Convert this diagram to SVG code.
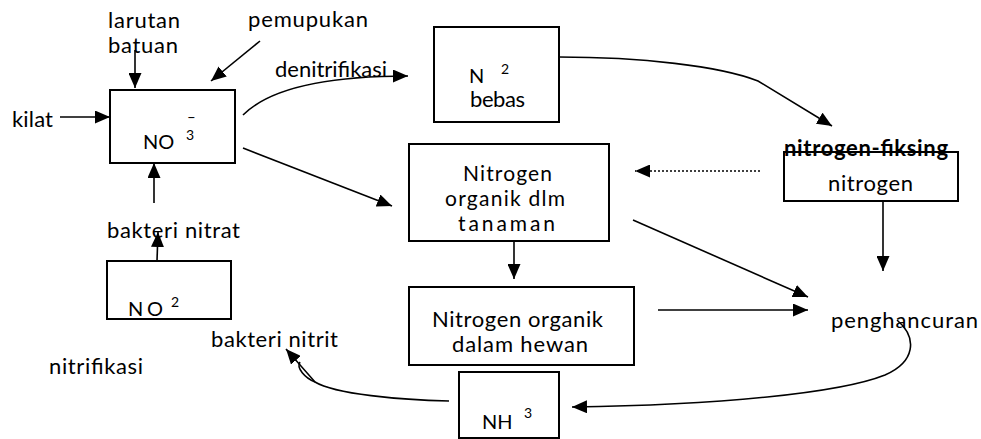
<svg xmlns="http://www.w3.org/2000/svg" width="981" height="439" viewBox="0 0 981 439">
<style>
text{font-family:Lato,"Liberation Sans",sans-serif;font-size:22px;fill:#000}
.sm{font-size:20px}
.t{font-size:21px}
.sup{font-size:14px}
.b{font-weight:bold}
.box{fill:#fff;stroke:#000;stroke-width:2}
.ln{fill:none;stroke:#000;stroke-width:1.6}
.ar{marker-end:url(#ah)}
.dot{stroke-dasharray:2 2}
</style>
<defs>
<marker id="ah" markerUnits="userSpaceOnUse" markerWidth="16" markerHeight="13" refX="15" refY="6.5" orient="auto">
<path d="M0,0 L15,6.5 L0,13 z" fill="#000"/>
</marker>
</defs>
<g id="connectors">
<path class="ln ar" d="M135,50 L135,88"/>
<path class="ln ar" d="M260,41 L211,81"/>
<path class="ln ar" d="M60,117 L110,117"/>
<path class="ln ar" d="M243,115 C270,88 330,76 408,76"/>
<path class="ln ar" d="M243,148 L392,206"/>
<path class="ln ar" d="M559,57 C640,57 720,66 758,81 L832,126"/>
<path class="ln ar dot" d="M760,171 L635,171"/>
<path class="ln ar" d="M883,192 L883,271"/>
<path class="ln ar" d="M633,220 L808,297"/>
<path class="ln ar" d="M514,241 L514,279"/>
<path class="ln ar" d="M658,310 L808,310"/>
<path class="ln ar" d="M897,320 C918,338 915,362 885,375 C840,393 720,405 572,407"/>
<path class="ln ar" d="M449,401 C400,400 335,394 315,382 L286,349"/>
<path class="ln" d="M315,382 C305,378 296,368 300,362"/>
<path class="ln ar" d="M157,261 L158,232"/>
<path class="ln ar" d="M154,203 L154,163"/>
</g>
<g id="larutan"><text x="108" y="28" textLength="72">larutan</text><text x="108" y="53" textLength="70">batuan</text></g>
<g id="pemupukan"><text x="248" y="27" textLength="120">pemupukan</text></g>
<g id="kilat"><text x="12" y="127" textLength="41">kilat</text></g>
<g id="denitrifikasi"><text x="275" y="77" textLength="112">denitrifikasi</text></g>
<g id="no3"><rect class="box" x="110" y="90" width="125" height="73"/><text class="sm" x="143" y="149">NO</text><text class="sup" x="186" y="140">3</text><text x="187" y="122" style="font-size:15px">–</text></g>
<g id="n2"><rect class="box" x="434" y="27" width="125" height="95"/><text class="sm" x="469" y="83">N</text><text class="sup" x="501" y="74">2</text><text x="470" y="107" textLength="55">bebas</text></g>
<g id="tanaman"><rect class="box" x="409" y="144" width="200" height="97"/><text class="t" x="463" y="181" textLength="89">Nitrogen</text><text class="t" x="445" y="206" textLength="120">organik dlm</text><text class="t" x="458" y="231" textLength="97">tanaman</text></g>
<g id="fiksing"><rect class="box" x="784" y="152" width="174" height="49"/><text class="b" x="784" y="156" textLength="164">nitrogen-fiksing</text><text x="828" y="191" textLength="85">nitrogen</text></g>
<g id="nitrat"><text x="107" y="238" textLength="133">bakteri nitrat</text></g>
<g id="no2"><rect class="box" x="107" y="261" width="124" height="58"/><text class="sm" x="128" y="316" textLength="35">NO</text><text class="sup" x="171" y="307">2</text></g>
<g id="nitrit"><text x="211" y="347" textLength="127">bakteri nitrit</text></g>
<g id="nitrifikasi"><text x="49" y="374" textLength="94">nitrifikasi</text></g>
<g id="hewan"><rect class="box" x="409" y="287" width="225" height="78"/><text x="432" y="327" textLength="171">Nitrogen organik</text><text x="452" y="352" textLength="136">dalam hewan</text></g>
<g id="penghancuran"><text x="831" y="328" textLength="147">penghancuran</text></g>
<g id="nh3"><rect class="box" x="459" y="372" width="100" height="66"/><text class="sm" x="482" y="429">NH</text><text class="sup" x="524" y="418">3</text></g>
</svg>
